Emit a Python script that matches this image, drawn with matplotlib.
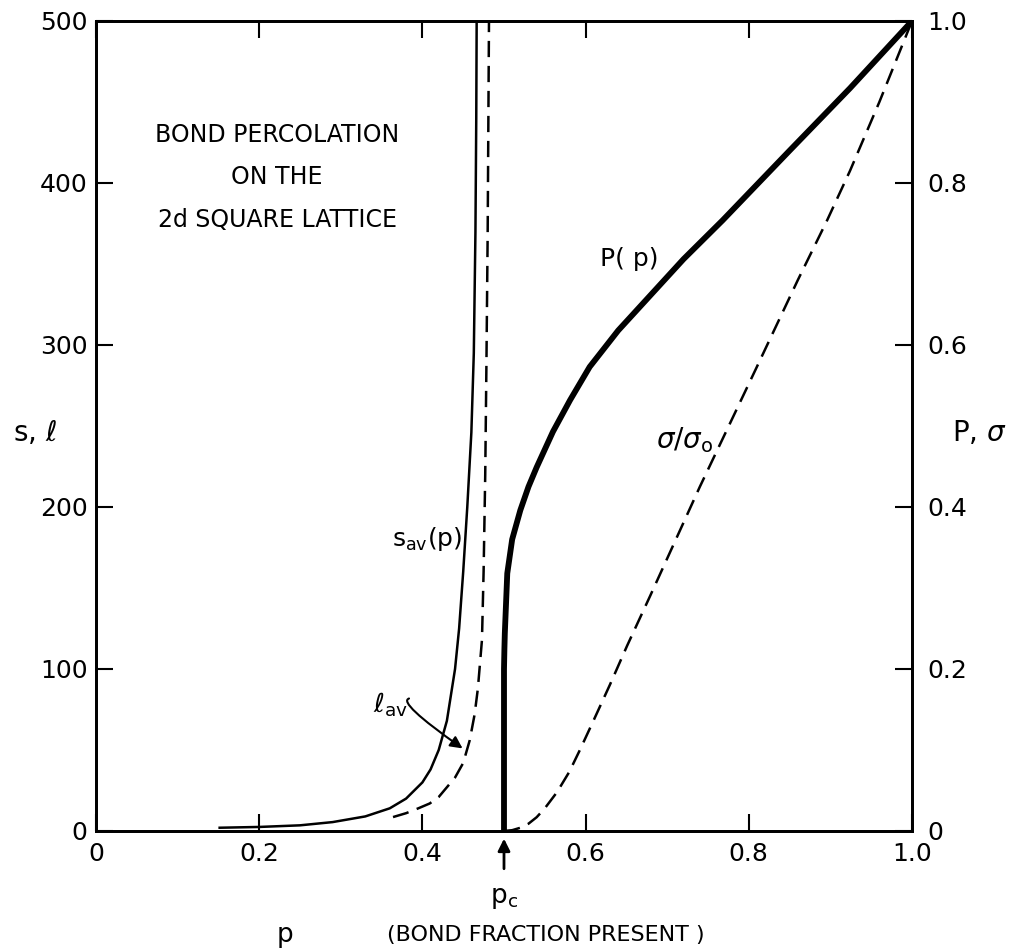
import matplotlib
matplotlib.use("Agg")
import matplotlib.pyplot as plt

# s_av(p), mean cluster size (left axis)
s_av_p = [0.15, 0.20, 0.25, 0.29, 0.33, 0.36, 0.38, 0.40, 0.41, 0.42, 0.43, 0.44, 0.445,
          0.45, 0.455, 0.46, 0.463, 0.465, 0.466, 0.4665]
s_av = [2, 2.5, 3.5, 5.5, 9, 14, 20, 30, 38, 50, 68, 100, 125,
        160, 200, 246, 295, 370, 440, 500]

# l_av(p), mean chemical length (left axis)
ell_p = [0.364, 0.38, 0.395, 0.409, 0.42, 0.430, 0.440, 0.450, 0.458, 0.464, 0.468,
         0.470, 0.473, 0.475, 0.477, 0.4785, 0.480, 0.4816]
ell = [8.6, 11, 14, 17, 21, 27, 33, 42, 56, 72, 88,
       100, 118, 160, 220, 290, 370, 500]

# P(p), percolation probability (right axis)
P_p = [0.5, 0.5, 0.5005, 0.501, 0.504, 0.51, 0.52, 0.53, 0.54, 0.56, 0.581, 0.605,
       0.64, 0.68, 0.72, 0.768, 0.85, 0.924, 1.0]
P = [0, 0.2, 0.225, 0.244, 0.318, 0.36, 0.396, 0.425, 0.449, 0.493, 0.532, 0.573,
     0.618, 0.662, 0.706, 0.754, 0.84, 0.917, 1.0]

# sigma/sigma_0, conductivity (right axis)
sig_p = [0.5, 0.51, 0.52, 0.53, 0.54, 0.55, 0.565, 0.58, 0.593, 0.61, 0.63, 0.651,
         0.679, 0.74, 0.808, 0.86, 0.896, 0.924, 0.96, 1.0]
sig = [0, 0.001, 0.004, 0.009, 0.017, 0.028, 0.048, 0.073, 0.1, 0.137, 0.181, 0.229,
       0.29, 0.425, 0.569, 0.68, 0.754, 0.815, 0.9, 1.0]

x_ticks = [0, 0.2, 0.4, 0.6, 0.8, 1.0]
x_labels = ["0", "0.2", "0.4", "0.6", "0.8", "1.0"]
left_ticks = [0, 100, 200, 300, 400, 500]
right_ticks = [0, 0.2, 0.4, 0.6, 0.8, 1.0]
right_labels = ["0", "0.2", "0.4", "0.6", "0.8", "1.0"]

plt.rcParams["font.family"] = ["DejaVu Sans"]
fs = 18

fig = plt.figure(figsize=(10.14, 9.52), dpi=100)
W, H = 1014, 952
ax = fig.add_axes([96 / W, 1 - 831 / H, (912 - 96) / W, (831 - 21) / H])
ax2 = ax.twinx()

dash = (0, (6.5, 3.5))
ax.plot(s_av_p, s_av, color="black", lw=1.8, solid_capstyle="butt")
ax.plot(ell_p, ell, color="black", lw=1.8, linestyle=dash)
ax2.plot(P_p, P, color="black", lw=4.2, solid_capstyle="butt", solid_joinstyle="round")
ax2.plot(sig_p, sig, color="black", lw=1.8, linestyle=dash)

ax.set_xlim(0, 1.0)
ax.set_ylim(0, 500)
ax2.set_ylim(0, 1.0)

ax.set_xticks(x_ticks)
ax.set_xticklabels(x_labels)
ax.set_yticks(left_ticks)
ax2.set_yticks(right_ticks)
ax2.set_yticklabels(right_labels)

ax.tick_params(axis="x", direction="in", length=12, width=1.5, labelsize=fs, pad=8, top=True)
ax.tick_params(axis="y", direction="in", length=12, width=1.5, labelsize=fs, pad=6)
ax2.tick_params(axis="y", direction="in", length=12, width=1.5, labelsize=fs, pad=11)
for a in (ax, ax2):
    for sp in a.spines.values():
        sp.set_linewidth(2)

# annotations
for txt, yy in [("BOND PERCOLATION", 429.6), ("ON THE", 403.7), ("2d SQUARE LATTICE", 377.2)]:
    ax.text(0.222, yy, txt, ha="center", va="center", fontsize=17)

ax.text(0.363, 180, r"s$_{\mathregular{av}}$(p)", ha="left", va="center", fontsize=fs)
ax.text(0.339, 78, r"$\ell$$_{\mathregular{av}}$", ha="left", va="center", fontsize=fs + 1)
ax.annotate("", xy=(0.452, 50), xytext=(0.387, 82),
            arrowprops=dict(arrowstyle="-|>", color="black", lw=1.5,
                            connectionstyle="angle3,angleA=0,angleB=-35",
                            mutation_scale=18))
ax2.text(0.654, 0.706, "P( p)", ha="center", va="center", fontsize=fs)
ax2.text(0.722, 0.483, r"$\sigma$/$\sigma_\mathregular{o}$", ha="center", va="center", fontsize=fs + 2)

ax.annotate("", xy=(0.5, -0.006), xytext=(0.5, -0.05), xycoords="axes fraction",
            arrowprops=dict(arrowstyle="-|>", color="black", lw=2, mutation_scale=18))
ax.text(0.5, -0.083, r"p$_\mathregular{c}$", transform=ax.transAxes, ha="center", va="center", fontsize=fs + 1)
ax.text((285 - 96) / 816, -0.128, "p", transform=ax.transAxes, ha="center", va="center", fontsize=fs + 1)
ax.text((387 - 96) / 816, -0.128, "(BOND FRACTION PRESENT )", transform=ax.transAxes,
        ha="left", va="center", fontsize=16)

ax.text(-0.075, 0.491, r"s, $\ell$", transform=ax.transAxes, ha="center", va="center", fontsize=fs + 2)
ax2.text(1.083, 0.491, r"P, $\sigma$", transform=ax2.transAxes, ha="center", va="center", fontsize=fs + 2)

fig.savefig("out.png", dpi=100)
